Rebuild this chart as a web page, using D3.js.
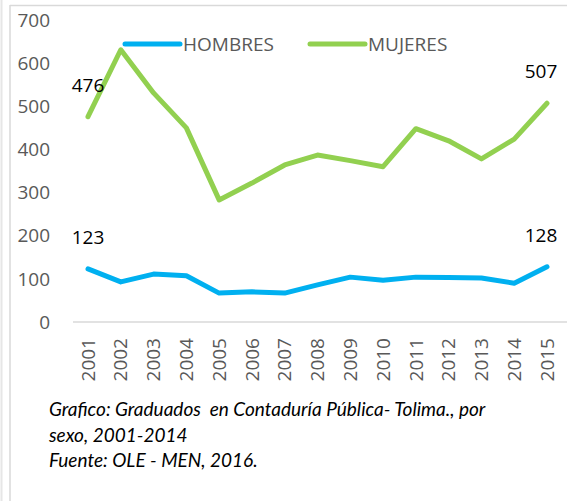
<!DOCTYPE html>
<html lang="es">
<head>
<meta charset="UTF-8">
<title>Graduados Contaduría Pública - Tolima</title>
<style>
    body { margin: 0; background: #fff; }
    svg text { font-family: "Open Sans", sans-serif; }
    .tick-label { fill: #595959; font-size: 19px; }
    .data-label { fill: #000; font-size: 19px; }
    .caption { fill: #000; font-size: 19px; font-style: italic; font-family: Lato, sans-serif; white-space: pre; }
</style>
</head>
<body>
<svg id="chart" width="567" height="501"></svg>
<script src="https://d3js.org/d3.v7.min.js"></script>
<script>
// data
const years = ["2001","2002","2003","2004","2005","2006","2007","2008","2009","2010","2011","2012","2013","2014","2015"];
const hombres = [123, 93, 111, 107, 67, 70, 67, 86, 104, 97, 104, 103, 102, 90, 128];
const mujeres = [476, 631, 531, 450, 283, 322, 364, 387, 374, 360, 448, 420, 378, 424, 507];
const yTicks = [0, 100, 200, 300, 400, 500, 600, 700];
const captionLines = [
    "Grafico: Graduados  en Contaduría Pública- Tolima., por",
    "sexo, 2001-2014",
    "Fuente: OLE - MEN, 2016."
];

const series = [
    { name: "HOMBRES", values: hombres, color: "#00b0f0" },
    { name: "MUJERES", values: mujeres, color: "#92d050" }
];

const svg = d3.select("#chart");

// frame lines (page edge + box)
svg.append("line").attr("x1", 1.5).attr("x2", 1.5).attr("y1", 0).attr("y2", 501)
    .attr("stroke", "#e6e6e6").attr("stroke-width", 2);
svg.append("line").attr("x1", 10).attr("x2", 10).attr("y1", 5).attr("y2", 501)
    .attr("stroke", "#d9d9d9").attr("stroke-width", 1.5);
svg.append("line").attr("x1", 10).attr("x2", 567).attr("y1", 5.5).attr("y2", 5.5)
    .attr("stroke", "#d9d9d9").attr("stroke-width", 1.5);

const x = d3.scalePoint().domain(years).range([88, 547]);
const y = d3.scaleLinear().domain([0, 700]).range([322, 20]);

// baseline
svg.append("line")
    .attr("x1", 73).attr("x2", 567)
    .attr("y1", y(0)).attr("y2", y(0))
    .attr("stroke", "#d9d9d9").attr("stroke-width", 1.5);

// y tick labels
svg.append("g").selectAll("text")
    .data(yTicks)
    .join("text")
    .attr("class", "tick-label")
    .attr("x", 50)
    .attr("y", d => y(d))
    .attr("dy", "0.35em")
    .attr("text-anchor", "end")
    .text(d => d);

// x tick labels, rotated
svg.append("g").selectAll("text")
    .data(years)
    .join("text")
    .attr("class", "tick-label")
    .attr("transform", d => `translate(${x(d)},338) rotate(-90)`)
    .attr("dy", "0.35em")
    .attr("text-anchor", "end")
    .text(d => d);

// lines
const line = d3.line()
    .x((d, i) => x(years[i]))
    .y(d => y(d));

svg.append("g").selectAll("path")
    .data(series)
    .join("path")
    .attr("fill", "none")
    .attr("stroke", d => d.color)
    .attr("stroke-width", 5)
    .attr("stroke-linejoin", "round")
    .attr("stroke-linecap", "round")
    .attr("d", d => line(d.values));

// data labels at first and last points
const labels = [];
series.forEach(s => {
    labels.push({ i: 0, v: s.values[0] });
    labels.push({ i: years.length - 1, v: s.values[years.length - 1] });
});
svg.append("g").selectAll("text")
    .data(labels)
    .join("text")
    .attr("class", "data-label")
    .attr("x", d => x(years[d.i]) + (d.i === years.length - 1 ? -6 : 0))
    .attr("y", d => y(d.v) - 25)
    .attr("text-anchor", "middle")
    .text(d => d.v);

// legend
const legend = svg.append("g").selectAll("g")
    .data(series)
    .join("g")
    .attr("transform", (d, i) => `translate(${[125, 310][i]},44)`);
legend.append("line")
    .attr("x1", 0).attr("x2", 55)
    .attr("stroke", d => d.color)
    .attr("stroke-width", 5)
    .attr("stroke-linecap", "round");
legend.append("text")
    .attr("class", "tick-label")
    .attr("x", 58)
    .attr("dy", "0.35em")
    .text(d => d.name);

// caption
svg.append("g").selectAll("text")
    .data(captionLines)
    .join("text")
    .attr("class", "caption")
    .attr("x", 49)
    .attr("y", (d, i) => 416 + i * 25.5)
    .text(d => d);
</script>
</body>
</html>
